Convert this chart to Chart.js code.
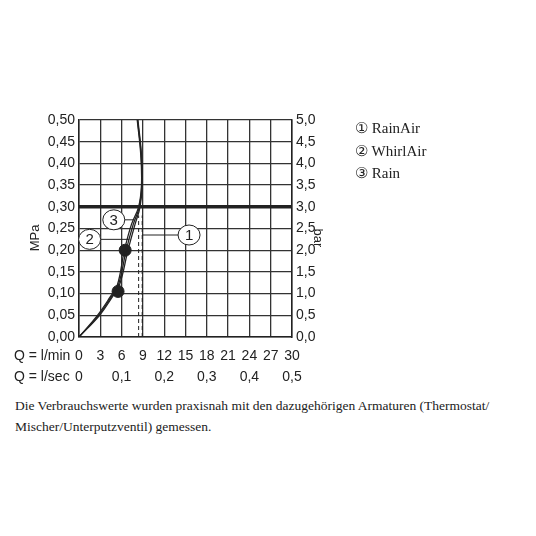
<!DOCTYPE html>
<html>
<head>
<meta charset="utf-8">
<script src="https://cdn.jsdelivr.net/npm/chart.js@4"></script>
<style>
  body { margin: 0; background: #fff; }
  #wrap { position: relative; width: 536px; height: 536px; }
  #c { position: absolute; left: 0; top: 0; }
  .legend { position: absolute; left: 355px; font: 15px "Liberation Serif", serif; color: #222; }
  #note { position: absolute; left: 15px; top: 395px; width: 510px; font: 13.5px/21px "Liberation Serif", serif; color: #222; }
</style>
</head>
<body>
<div id="wrap">
  <canvas id="c" width="536" height="395"></canvas>
  <div class="legend" style="top:119px">① RainAir</div>
  <div class="legend" style="top:142px">② WhirlAir</div>
  <div class="legend" style="top:164px">③ Rain</div>
  <div id="note">Die Verbrauchswerte wurden praxisnah mit den dazugehörigen Armaturen (Thermostat/ Mischer/Unterputzventil) gemessen.</div>
</div>
<script>
// flow in l/min, pressure in MPa
const flowTicks = [0, 3, 6, 9, 12, 15, 18, 21, 24, 27, 30];
const secTicks = ['0', '0,1', '0,2', '0,3', '0,4', '0,5'];
const rainAir = [[0,0],[2.9,0.05],[4.6,0.09],[5.7,0.12],[6.9,0.2],[7.9,0.26],[8.6,0.30],[8.9,0.35],[8.8,0.42],[8.3,0.5]];
const whirlAir = [[0,0],[2.6,0.05],[4.3,0.09],[5.4,0.12],[6.4,0.2],[7.4,0.26],[8.4,0.30],[8.8,0.35],[8.7,0.42],[8.2,0.5]];
const rain = [[0,0],[2.75,0.05],[4.45,0.09],[5.55,0.12],[6.65,0.2],[7.65,0.26],[8.5,0.30],[8.85,0.35],[8.75,0.42],[8.25,0.5]];
const markers = [[5.5, 0.105], [6.5, 0.2]];
const dashX = [8.4, 8.9];

const pts = a => a.map(p => ({ x: p[0], y: p[1] }));
const curve = d => ({ type: 'line', data: pts(d), borderColor: '#222', borderWidth: 1.3, pointRadius: 0, tension: 0.4, yAxisID: 'y' });

const fmt = v => v.toFixed(2).replace('.', ',');

const extras = {
  id: 'extras',
  afterDraw(chart) {
    const { ctx, scales: { x, y } } = chart;
    ctx.save();
    // thick 0.30 line
    ctx.strokeStyle = '#222'; ctx.lineWidth = 3.5;
    ctx.beginPath(); ctx.moveTo(x.left, y.getPixelForValue(0.3)); ctx.lineTo(x.right, y.getPixelForValue(0.3)); ctx.stroke();
    // dashed verticals
    ctx.lineWidth = 1; ctx.setLineDash([4, 3]);
    dashX.forEach(v => {
      ctx.beginPath(); ctx.moveTo(x.getPixelForValue(v), y.bottom); ctx.lineTo(x.getPixelForValue(v), y.getPixelForValue(0.28)); ctx.stroke();
    });
    ctx.setLineDash([]);
    // circled labels with leaders
    const labels = [['3', 4.9, 0.27, 7.8, 0.27], ['2', 1.5, 0.225, 7.1, 0.225], ['1', 15.5, 0.235, 8.9, 0.235]];
    ctx.font = '15px "Liberation Sans", Arial';
    ctx.textAlign = 'center'; ctx.textBaseline = 'middle';
    labels.forEach(([t, lx, ly, ex, ey]) => {
      const px = x.getPixelForValue(lx), py = y.getPixelForValue(ly);
      ctx.lineWidth = 1;
      ctx.beginPath(); ctx.moveTo(px + (ex > lx ? 10 : -10), py); ctx.lineTo(x.getPixelForValue(ex), y.getPixelForValue(ey)); ctx.stroke();
      ctx.fillStyle = '#fff';
      ctx.beginPath(); ctx.ellipse(px, py, 11, 10, 0, 0, Math.PI * 2); ctx.fill(); ctx.stroke();
      ctx.fillStyle = '#222'; ctx.fillText(t, px, py + 1);
    });
    // axis titles
    ctx.font = '13px "Liberation Sans", Arial';
    [['MPa', 35, -Math.PI / 2], ['bar', 318, Math.PI / 2]].forEach(([t, tx, r]) => {
      ctx.save(); ctx.translate(tx, 238); ctx.rotate(r); ctx.fillText(t, 0, 0); ctx.restore();
    });
    // bottom rows
    ctx.font = '14px "Liberation Sans", Arial';
    ctx.textAlign = 'left';
    ctx.fillText('Q = l/min', 14, 356);
    ctx.fillText('Q = l/sec', 14, 377);
    ctx.textAlign = 'center';
    flowTicks.forEach(v => ctx.fillText(String(v), x.getPixelForValue(v), 356));
    secTicks.forEach((s, i) => ctx.fillText(s, x.getPixelForValue(i * 6), 377));
    ctx.restore();
  }
};

new Chart(document.getElementById('c'), {
  type: 'line',
  data: {
    datasets: [
      curve(rainAir), curve(whirlAir), curve(rain),
      { type: 'scatter', data: pts(markers), pointRadius: 6, backgroundColor: '#222', borderColor: '#222', yAxisID: 'y' }
    ]
  },
  options: {
    responsive: false,
    animation: false,
    layout: { padding: { left: 0, top: 120, right: 0, bottom: 58 } },
    plugins: { legend: { display: false }, tooltip: { enabled: false } },
    scales: {
      x: {
        type: 'linear', min: 0, max: 30,
        afterBuildTicks: s => { s.ticks = flowTicks.map(v => ({ value: v })); },
        ticks: { display: false },
        grid: { color: '#333', lineWidth: 1.3, drawTicks: false },
        border: { color: '#222', width: 1.5 },
        afterFit: s => { s.height = 0; }
      },
      y: {
        min: 0, max: 0.5,
        ticks: { stepSize: 0.05, callback: v => fmt(v), color: '#222', font: { family: 'Liberation Sans', size: 14 }, padding: 4 },
        grid: { color: '#333', lineWidth: 1.3, drawTicks: false },
        border: { color: '#222', width: 1.5 },
        afterFit: s => { s.width = 79; }
      },
      y2: {
        position: 'right', min: 0, max: 5,
        ticks: { stepSize: 0.5, callback: v => v.toFixed(1).replace('.', ','), color: '#222', font: { family: 'Liberation Sans', size: 14 }, padding: 4 },
        grid: { display: false, drawTicks: false },
        border: { color: '#222', width: 1.5 },
        afterFit: s => { s.width = 244; }
      }
    }
  },
  plugins: [extras]
});
</script>
</body>
</html>
